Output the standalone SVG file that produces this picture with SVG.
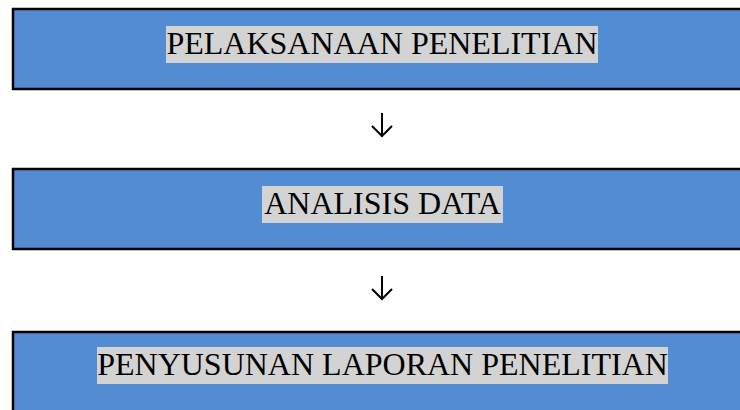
<svg xmlns="http://www.w3.org/2000/svg" width="740" height="410" viewBox="0 0 740 410">
  <style>
    .box { fill: #528DD4; stroke: #000; stroke-width: 2.5; }
    .hl { fill: #D3D3D3; }
    .label { font-family: "Liberation Serif", "Times New Roman", serif; font-size: 32px; fill: #000; text-anchor: middle; }
    .conn { fill: none; stroke: #000; stroke-width: 2; }
  </style>
  <rect width="740" height="410" fill="#fff"/>

  <g id="node-pelaksanaan">
    <rect class="box" x="13" y="9" width="740" height="80"/>
    <rect class="hl" x="166" y="26" width="432" height="37"/>
    <text class="label" x="382" y="54">PELAKSANAAN PENELITIAN</text>
  </g>

  <g id="node-analisis">
    <rect class="box" x="13" y="169" width="740" height="80"/>
    <rect class="hl" x="262" y="186" width="241" height="37"/>
    <text class="label" x="382.5" y="214">ANALISIS DATA</text>
  </g>

  <g id="node-penyusunan">
    <rect class="box" x="13" y="332" width="740" height="90"/>
    <rect class="hl" x="97" y="347" width="571" height="37"/>
    <text class="label" x="382.5" y="375">PENYUSUNAN LAPORAN PENELITIAN</text>
  </g>

  <g id="connectors">
    <path class="conn" d="M382 113 V136 M372 126 L382 136 L392 126"/>
    <path class="conn" d="M382 276 V299 M372 289 L382 299 L392 289"/>
  </g>
</svg>
